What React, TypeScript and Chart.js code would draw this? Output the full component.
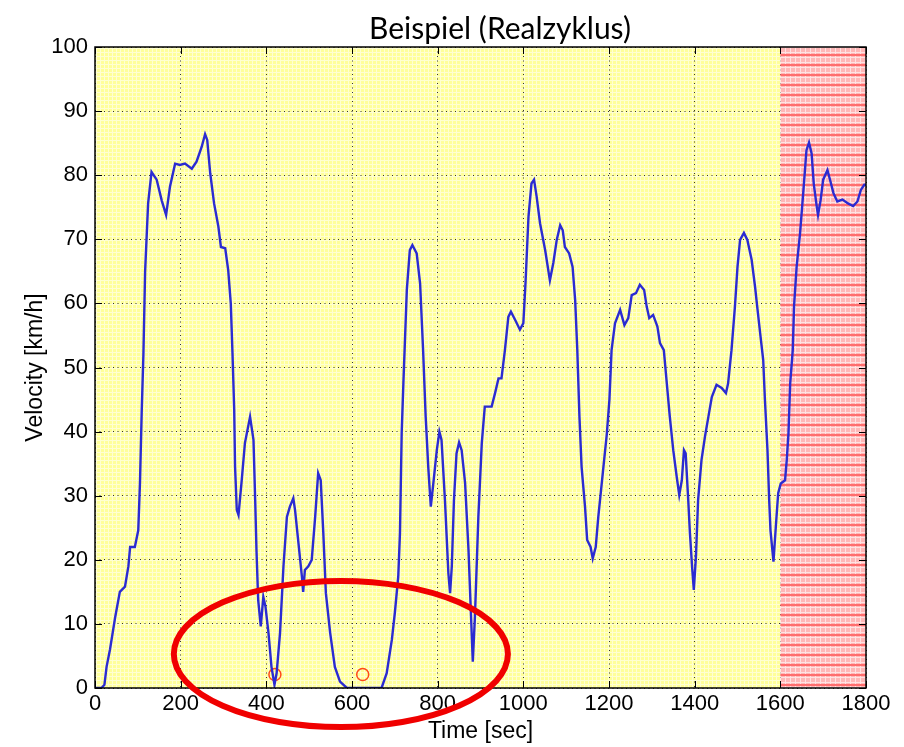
import { useEffect, useRef } from "react";
import { Chart, registerables } from "chart.js";

Chart.register(...registerables);

const timeSec = [
  0, 15, 22, 27, 35, 47, 58, 70, 78, 82, 93, 101, 105, 109, 113, 117, 124, 132, 144, 156,
  166, 175, 187, 198, 210, 226, 237, 249, 257, 262, 269, 278, 288, 294, 304, 311, 317, 321, 325, 327,
  331, 335, 342, 350, 362, 370, 374, 377, 381, 387, 393, 398, 405, 412, 419, 424, 432, 440, 448, 455,
  463, 467, 475, 483, 486, 490, 498, 506, 514, 521, 527, 533, 539, 549, 560, 572, 588, 669, 681, 693,
  700, 708, 712, 716, 720, 728, 735, 741, 751, 759, 766, 772, 774, 778, 784, 790, 798, 804, 809, 817,
  825, 829, 833, 838, 844, 850, 856, 864, 872, 877, 882, 887, 895, 903, 910, 918, 926, 934, 942, 949,
  957, 965, 971, 981, 992, 1000, 1005, 1012, 1019, 1025, 1031, 1039, 1051, 1062, 1070, 1078, 1086, 1092, 1097, 1107,
  1115, 1121, 1126, 1131, 1136, 1144, 1149, 1157, 1162, 1169, 1175, 1187, 1195, 1201, 1206, 1214, 1226, 1236, 1245, 1253,
  1263, 1272, 1282, 1288, 1294, 1303, 1313, 1319, 1328, 1335, 1342, 1350, 1358, 1364, 1370, 1375, 1379, 1385, 1389, 1394,
  1398, 1403, 1408, 1416, 1424, 1432, 1440, 1451, 1463, 1473, 1478, 1486, 1494, 1500, 1506, 1515, 1523, 1533, 1541, 1546,
  1553, 1560, 1564, 1570, 1574, 1577, 1584, 1590, 1595, 1601, 1611, 1615, 1619, 1623, 1629, 1632, 1638, 1646, 1654, 1661,
  1667, 1673, 1678, 1685, 1688, 1694, 1700, 1710, 1716, 1724, 1733, 1745, 1758, 1770, 1780, 1788, 1796, 1800,
];

const velocityKmh = [
  0, 0, 0.5, 3.3, 6, 11, 15, 15.8, 19, 22, 22, 24.6, 32, 43, 52, 65, 75.6, 80.5, 79.3, 76,
  73.8, 78.2, 81.8, 81.6, 81.8, 81, 82.1, 84.4, 86.4, 85.5, 80.3, 75.6, 72, 68.8, 68.6, 65.2, 60, 52.2, 43.4, 34.5,
  27.8, 27, 32, 38.2, 42.3, 38.7, 29.3, 21.5, 13.7, 9.6, 14.2, 12.7, 8.6, 3.3, 0.5, 2.3, 8.6, 19, 26.7, 28.3,
  29.6, 27.8, 22.6, 17.4, 15, 18.4, 19, 20, 26.7, 33.5, 32.4, 24.2, 14.8, 8.6, 3.3, 1, 0, 0, 2.3, 7.5,
  11.7, 17.4, 24.2, 39.8, 47.6, 62.1, 68.3, 69.1, 67.8, 63.1, 52.7, 42.3, 39.8, 34.5, 28.3, 32, 37.1, 40, 38.7, 29.3,
  17.9, 14.8, 19, 29.3, 36.6, 38.3, 37.1, 32, 21.5, 12.7, 4.1, 11.1, 26.7, 38.2, 43.9, 43.9, 43.9, 46, 48.3, 48.3,
  52.7, 57.9, 58.7, 57.4, 55.9, 56.9, 63.1, 73.5, 78.7, 79.3, 76.7, 72.5, 68.3, 63.6, 66.3, 69.9, 72.2, 71.4, 68.8, 67.8,
  65.7, 60.5, 52.7, 42.3, 34.5, 28.3, 23.1, 22, 20.2, 22, 26.7, 34.5, 39.7, 45, 52.7, 56.9, 59, 56.6, 57.7, 61.3,
  61.6, 62.9, 62.1, 59.5, 57.7, 58.2, 56.4, 53.8, 52.7, 47.5, 42.3, 37.1, 33, 30.1, 32.4, 37.1, 36.6, 29.3, 24.1, 18.9,
  15.3, 20.5, 29.3, 35.6, 39.2, 42.3, 45.4, 47.3, 46.8, 46, 47.5, 52.7, 59.5, 65.7, 69.9, 71, 69.9, 66.8, 62.6, 59.5,
  55.3, 51.2, 45, 37.1, 29.3, 24.6, 19.7, 25.7, 30.4, 31.9, 32.4, 35.6, 39.7, 47.5, 52.7, 59.5, 65.7, 70.9, 77.7, 83.9,
  85.1, 83.4, 78.7, 75.1, 73.8, 76.1, 79.3, 80.8, 79.3, 77.2, 75.9, 76.2, 75.6, 75.2, 75.9, 77.7, 78.5, 78.5,
];

const xTickValues = [0, 200, 400, 600, 800, 1000, 1200, 1400, 1600, 1800];
const yTickValues = [0, 10, 20, 30, 40, 50, 60, 70, 80, 90, 100];

const markerTimes = [420, 625];
const markerVelocity = [2.1, 2.1];

const redZoneStart = 1600;
const redZoneEnd = 1800;

const ellipseCenterTime = 574;
const ellipseCenterVelocity = 5.3;
const ellipseRadiusTime = 390;
const ellipseRadiusVelocity = 11.4;

const titleText = "Beispiel (Realzyklus)";
const xTitle = "Time [sec]";
const yTitle = "Velocity [km/h]";

function makeYellowPattern(ctx: CanvasRenderingContext2D) {
  const c = document.createElement("canvas");
  c.width = 4;
  c.height = 4;
  const g = c.getContext("2d")!;
  g.fillStyle = "#ffff9a";
  g.fillRect(0, 0, 4, 4);
  g.fillStyle = "#ffffd2";
  g.fillRect(0, 0, 4, 1);
  g.fillRect(0, 0, 1, 4);
  return ctx.createPattern(c, "repeat")!;
}

function makeRedPattern(ctx: CanvasRenderingContext2D) {
  const c = document.createElement("canvas");
  c.width = 5;
  c.height = 10;
  const g = c.getContext("2d")!;
  g.fillStyle = "#ffb8b8";
  g.fillRect(0, 0, 5, 10);
  g.fillStyle = "#ffe2e2";
  g.fillRect(0, 0, 1, 10);
  g.fillRect(0, 2, 5, 1);
  g.fillRect(0, 7, 5, 1);
  g.fillStyle = "#ff6e6e";
  g.fillRect(0, 4, 5, 2);
  return ctx.createPattern(c, "repeat")!;
}

const decorPlugin = {
  id: "decor",
  beforeDraw(chart: any) {
    const { ctx, chartArea } = chart;
    const { left, top, right, bottom } = chartArea;
    ctx.save();
    ctx.fillStyle = "#ffffff";
    ctx.fillRect(0, 0, chart.width, chart.height);
    ctx.fillStyle = makeYellowPattern(ctx);
    ctx.fillRect(left, top, right - left, bottom - top);
    ctx.restore();
  },
  beforeDatasetsDraw(chart: any) {
    const { ctx, chartArea, scales } = chart;
    const x0 = scales.x.getPixelForValue(redZoneStart);
    const x1 = scales.x.getPixelForValue(redZoneEnd);
    ctx.save();
    ctx.fillStyle = makeRedPattern(ctx);
    ctx.fillRect(x0, chartArea.top, x1 - x0, chartArea.bottom - chartArea.top);
    ctx.restore();
  },
  afterDatasetsDraw(chart: any) {
    const { ctx, chartArea, scales } = chart;
    const { left, top, right, bottom } = chartArea;
    const tl = 7;
    ctx.save();
    ctx.strokeStyle = "#000";
    ctx.lineWidth = 1;
    ctx.beginPath();
    for (const v of xTickValues) {
      const px = Math.round(scales.x.getPixelForValue(v)) + 0.5;
      ctx.moveTo(px, bottom);
      ctx.lineTo(px, bottom - tl);
      ctx.moveTo(px, top);
      ctx.lineTo(px, top + tl);
    }
    for (const v of yTickValues) {
      const py = Math.round(scales.y.getPixelForValue(v)) + 0.5;
      ctx.moveTo(left, py);
      ctx.lineTo(left + tl, py);
      ctx.moveTo(right, py);
      ctx.lineTo(right - tl, py);
    }
    ctx.stroke();
    ctx.lineWidth = 1.5;
    ctx.strokeRect(left, top, right - left, bottom - top);
    ctx.restore();
  },
  afterDraw(chart: any) {
    const { ctx, scales } = chart;
    ctx.save();
    ctx.fillStyle = "#000";
    ctx.font = "30px Lato";
    ctx.textAlign = "center";
    ctx.textBaseline = "alphabetic";
    ctx.fillText(titleText, 500, 39);
    const cx = scales.x.getPixelForValue(ellipseCenterTime);
    const cy = scales.y.getPixelForValue(ellipseCenterVelocity);
    const rx = scales.x.getPixelForValue(ellipseCenterTime + ellipseRadiusTime) - cx;
    const ry = cy - scales.y.getPixelForValue(ellipseCenterVelocity + ellipseRadiusVelocity);
    ctx.strokeStyle = "#f00000";
    ctx.lineWidth = 6;
    ctx.beginPath();
    ctx.ellipse(cx, cy, rx, ry, 0, 0, Math.PI * 2);
    ctx.stroke();
    ctx.restore();
  },
};

export default function App() {
  const canvasRef = useRef<HTMLCanvasElement | null>(null);

  useEffect(() => {
    const canvas = canvasRef.current;
    if (!canvas) return;
    const lineData = timeSec.map((t, i) => ({ x: t, y: velocityKmh[i] }));
    const markerData = markerTimes.map((t, i) => ({ x: t, y: markerVelocity[i] }));
    const chart = new Chart(canvas, {
      type: "line",
      data: {
        datasets: [
          {
            label: "Velocity",
            data: lineData,
            borderColor: "#2b2bd2",
            borderWidth: 2.4,
            pointRadius: 0,
            tension: 0,
            fill: false,
          },
          {
            label: "Stops",
            data: markerData,
            showLine: false,
            pointStyle: "circle",
            pointRadius: 6,
            pointBorderWidth: 1.5,
            pointBorderColor: "#ff4a1a",
            pointBackgroundColor: "rgba(0,0,0,0)",
            borderColor: "#ff4a1a",
            backgroundColor: "rgba(0,0,0,0)",
          },
        ],
      },
      options: {
        animation: false,
        responsive: false,
        devicePixelRatio: 1,
        layout: { padding: { left: 0, right: 38, top: 47, bottom: 2 } },
        plugins: {
          legend: { display: false },
          tooltip: { enabled: false },
          title: { display: false },
        },
        scales: {
          x: {
            type: "linear",
            min: 0,
            max: 1800,
            afterBuildTicks: (scale: any) => {
              scale.ticks = xTickValues.map((v) => ({ value: v }));
            },
            afterFit: (scale: any) => {
              scale.height = 57;
            },
            ticks: {
              color: "#000",
              font: { family: "Liberation Sans", size: 22 },
              padding: 3,
              maxRotation: 0,
              autoSkip: false,
              callback: (value: any) => String(value),
            },
            grid: {
              drawTicks: false,
              color: "#333",
              lineWidth: 1,
            },
            border: { display: false, dash: [1, 3.5] },
            title: {
              display: true,
              text: xTitle,
              color: "#000",
              font: { family: "Liberation Sans", size: 23 },
              padding: { top: 0, bottom: 0 },
            },
          },
          y: {
            type: "linear",
            min: 0,
            max: 100,
            afterBuildTicks: (scale: any) => {
              scale.ticks = yTickValues.map((v) => ({ value: v }));
            },
            afterFit: (scale: any) => {
              scale.width = 95;
            },
            ticks: {
              color: "#000",
              font: { family: "Liberation Sans", size: 22 },
              padding: 7,
              autoSkip: false,
              callback: (value: any) => String(value),
            },
            grid: {
              drawTicks: false,
              color: "#333",
              lineWidth: 1,
            },
            border: { display: false, dash: [1, 3.5] },
            title: {
              display: true,
              text: yTitle,
              color: "#000",
              font: { family: "Liberation Sans", size: 23 },
              padding: { top: 22, bottom: 0 },
            },
          },
        },
      },
      plugins: [decorPlugin],
    });
    return () => chart.destroy();
  }, []);

  return (
    <div style={{ position: "fixed", left: 0, top: 0, width: 904, height: 747 }}>
      <canvas ref={canvasRef} width={904} height={747} />
    </div>
  );
}
